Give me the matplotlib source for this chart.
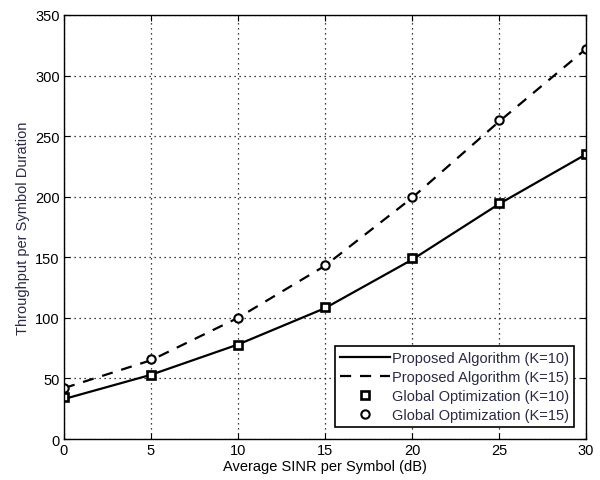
import numpy as np
import matplotlib
matplotlib.use("Agg")
import matplotlib.pyplot as plt

plt.rcParams['font.family'] = ['Liberation Sans', 'DejaVu Sans']

# SINR points (dB)
sinr_db = [0, 5, 10, 15, 20, 25, 30]

# throughput values
proposed_k10 = [33, 53, 78, 108, 148, 194, 235]
proposed_k15 = [42, 65, 100, 143, 199, 262, 322]
global_k10 = [35, 53, 78, 109, 149, 195, 235]
global_k15 = [42, 66, 100, 144, 200, 263, 322]

xticks = [0, 5, 10, 15, 20, 25, 30]
yticks = [0, 50, 100, 150, 200, 250, 300, 350]

fig = plt.figure(figsize=(6.0, 4.81), dpi=100)
ax = fig.add_axes([64 / 600, 1 - 440 / 481, 522 / 600, 424 / 481])

ax.plot(sinr_db, proposed_k10, '-', color='black', lw=1.6, label='Proposed Algorithm (K=10)')
ax.plot(sinr_db, proposed_k15, '--', color='black', lw=1.6, dashes=(5, 4),
        label='Proposed Algorithm (K=15)')
ax.plot(sinr_db, global_k10, 's', color='black', mfc='white', mew=1.9, ms=6,
        label='Global Optimization (K=10)')
ax.plot(sinr_db, global_k15, 'o', color='black', mfc='white', mew=1.5, ms=6,
        label='Global Optimization (K=15)')

ax.set_xlim(0, 30)
ax.set_ylim(0, 350)
ax.set_xticks(xticks)
ax.set_yticks(yticks)
ax.grid(True, linestyle=(0, (1, 3)), color='black', lw=0.9)
ax.tick_params(direction='in', top=True, right=True, labelsize=10.5, length=4, pad=3)
for s in ax.spines.values():
    s.set_linewidth(1.0)

ax.set_xlabel('Average SINR per Symbol (dB)', fontsize=10.5, labelpad=1)
ax.set_ylabel('Throughput per Symbol Duration', fontsize=10.5, labelpad=4, color='#2a2a45')

leg = ax.legend(loc='lower right', fontsize=10.5, fancybox=False, framealpha=1,
                edgecolor='black', handlelength=3.4, handletextpad=0.15,
                borderpad=0.35, labelspacing=0.35, borderaxespad=0.8)
leg.get_frame().set_linewidth(1.2)
for t in leg.get_texts():
    t.set_color('#2a2a45')

fig.savefig('out.png', dpi=100)
